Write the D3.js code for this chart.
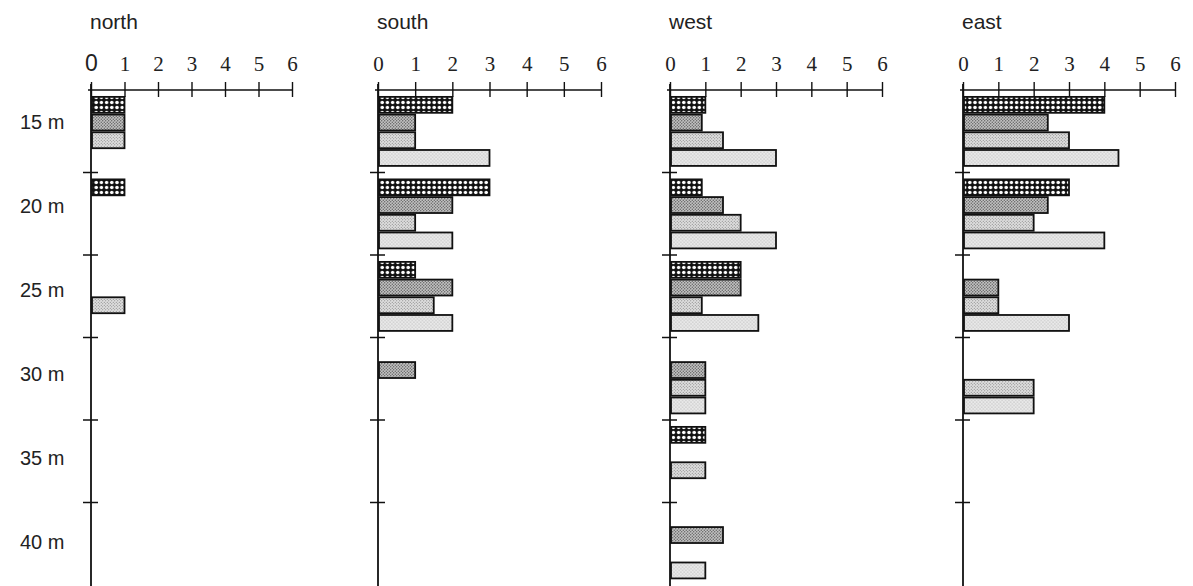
<!DOCTYPE html>
<html><head><meta charset="utf-8">
<script src="https://cdn.jsdelivr.net/npm/d3@7"></script>
<style>body{margin:0;background:#fff}svg{display:block}</style>
</head><body><svg id="c" width="1193" height="586"></svg>
<script>
// ---------- data ----------
const depths = ["15 m","20 m","25 m","30 m","35 m","40 m"];
const depthValues = [15,20,25,30,35,40];
const panelNames = ["north","south","west","east"];
const seriesNames = ["dark","medium","light","pale"];
const tickValues = [0,1,2,3,4,5,6];
const tickLabels = ["0","1","2","3","4","5","6"];

const northDark   = [1,1,0,0,0,0];
const northMedium = [1,0,0,0,0,0];
const northLight  = [1,0,1,0,0,0];
const northPale   = [0,0,0,0,0,0];

const southDark   = [2,3,1,0,0,0];
const southMedium = [1,2,2,1,0,0];
const southLight  = [1,1,1.5,0,0,0];
const southPale   = [3,2,2,0,0,0];

const westDark    = [1,0.9,2,0,1,0];
const westMedium  = [0.9,1.5,2,1,0,1.5];
const westLight   = [1.5,2,0.9,1,1,0];
const westPale    = [3,3,2.5,1,0,1];

const eastDark    = [4,3,0,0,0,0];
const eastMedium  = [2.4,2.4,1,0,0,0];
const eastLight   = [3,2,1,2,0,0];
const eastPale    = [4.4,4,3,2,0,0];

const panelData = {
  north: [northDark, northMedium, northLight, northPale],
  south: [southDark, southMedium, southLight, southPale],
  west:  [westDark, westMedium, westLight, westPale],
  east:  [eastDark, eastMedium, eastLight, eastPale]
};

// ---------- layout ----------
const panelRanges = { north:[91,292], south:[378,601], west:[670,882], east:[963,1175] };
const axisY = 90;

const svg = d3.select("#c");
const defs = svg.append("defs");

function dotPattern(id, bg, dot, size, r) {
  const p = defs.append("pattern").attr("id", id).attr("patternUnits","userSpaceOnUse")
    .attr("width", size).attr("height", size);
  p.append("rect").attr("width", size).attr("height", size).attr("fill", bg);
  p.append("circle").attr("cx", size*0.25).attr("cy", size*0.25).attr("r", r).attr("fill", dot);
  p.append("circle").attr("cx", size*0.75).attr("cy", size*0.75).attr("r", r).attr("fill", dot);
}
// bubble pattern: black with white holes
(function(){
  const p = defs.append("pattern").attr("id","pdark").attr("patternUnits","userSpaceOnUse")
    .attr("width",5.2).attr("height",5);
  p.append("rect").attr("width",5.2).attr("height",5).attr("fill","#111");
  p.append("circle").attr("cx",2.6).attr("cy",2.5).attr("r",1.75).attr("fill","#fff");
})();
dotPattern("pmedium", "#c2c2c2", "#555", 3, 0.65);
dotPattern("plight",  "#dedede", "#707070", 3, 0.5);
dotPattern("ppale",   "#e9e9e9", "#888", 3.4, 0.45);
const fills = { dark:"url(#pdark)", medium:"url(#pmedium)", light:"url(#plight)", pale:"url(#ppale)" };

const y = d3.scaleBand().domain(depthValues).range([axisY, 585]).padding(0);
const ySub = d3.scaleBand().domain(seriesNames).range([6, 6 + 4*17.7]).paddingInner(0.1).paddingOuter(0.05);
const yLabel = d3.scaleLinear().domain([15,40]).range([122, 542]);

// depth labels
svg.append("g").selectAll("text").data(depthValues).join("text")
  .attr("x", 20).attr("y", d => yLabel(d)).attr("dy","0.35em")
  .attr("font-family","Liberation Sans, Arial, sans-serif").attr("font-size", 20).attr("fill","#222")
  .text((d,i) => depths[i]);

panelNames.forEach(name => {
  const x = d3.scaleLinear().domain([0,6]).range(panelRanges[name]);
  const g = svg.append("g");

  g.append("text").attr("x", x(0) - 1).attr("y", 29)
    .attr("font-family","Liberation Sans, Arial, sans-serif").attr("font-size", 21).attr("fill","#222")
    .text(name);

  panelData[name].forEach((vals, si) => {
    const s = seriesNames[si];
    g.append("g").selectAll("rect").data(depthValues.map((d,i)=>({d, v: vals[i]})).filter(o => o.v > 0))
      .join("rect")
      .attr("x", x(0) + 1)
      .attr("y", o => y(o.d) + ySub(s))
      .attr("width", o => x(o.v) - x(0) - 1)
      .attr("height", ySub.bandwidth())
      .attr("fill", fills[s])
      .attr("stroke", "#111").attr("stroke-width", 1.8);
  });

  const axTop = d3.axisTop(x).tickValues(tickValues).tickFormat((d,i)=>tickLabels[i])
    .tickSizeInner(8).tickSizeOuter(0).tickPadding(11);
  const ga = g.append("g").attr("transform", `translate(0,${axisY})`).call(axTop);
  ga.select(".domain").attr("stroke","#111").attr("stroke-width",1.5)
    .attr("d", `M${x(0)-3},0H${x(6)}`);
  ga.selectAll(".tick line").attr("stroke","#111").attr("stroke-width",1.4);
  ga.selectAll(".tick text").attr("font-family","Liberation Serif, Times New Roman, serif")
    .attr("font-size", 21).attr("fill","#222");
  if (name === "north") {
    ga.selectAll(".tick text").filter(d => d === 0)
      .attr("font-family","Liberation Sans, Arial, sans-serif").attr("font-size", 23);
  }
  const axBot = d3.axisBottom(x).tickValues(tickValues).tickFormat("").tickSizeInner(7).tickSizeOuter(0);
  const gb = g.append("g").attr("transform", `translate(0,${axisY})`).call(axBot);
  gb.select(".domain").remove();
  gb.selectAll(".tick line").attr("stroke","#111").attr("stroke-width",1.4);

  g.append("line").attr("x1", x(0)).attr("x2", x(0)).attr("y1", axisY - 6).attr("y2", 586)
    .attr("stroke","#111").attr("stroke-width",1.8);
  g.append("g").selectAll("line").data(depthValues.slice(1)).join("line")
    .attr("x1", x(0) - 8).attr("x2", x(0) + 7)
    .attr("y1", d => y(d)).attr("y2", d => y(d))
    .attr("stroke","#111").attr("stroke-width",1.5);
});
</script></body></html>
